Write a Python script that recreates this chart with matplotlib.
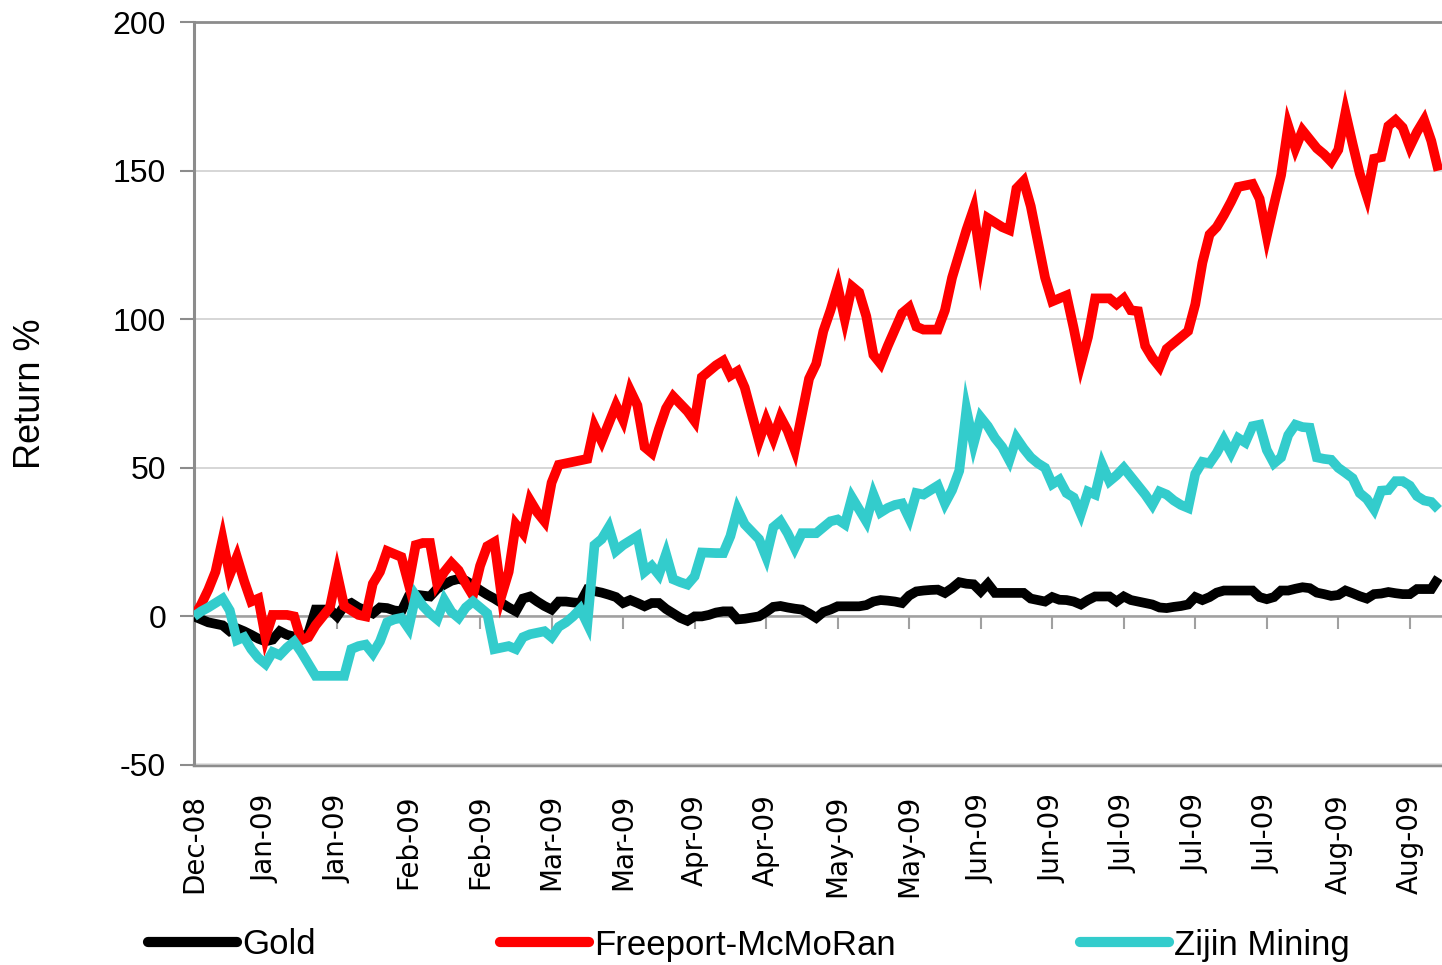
import matplotlib
matplotlib.use("Agg")
import matplotlib.pyplot as plt
from matplotlib import font_manager
from matplotlib.lines import Line2D

plt.rcParams["axes.unicode_minus"] = False

# ---------------- data (trading-day index, return %) ----------------
tick_labels = ["Dec-08", "Jan-09", "Jan-09", "Feb-09", "Feb-09", "Mar-09", "Mar-09",
               "Apr-09", "Apr-09", "May-09", "May-09", "Jun-09", "Jun-09", "Jul-09",
               "Jul-09", "Jul-09", "Aug-09", "Aug-09"]

gold = [0, -1, -2, -2.5, -3, -5, -4, -5, -6.2, -7.5,
        -8.4, -7.8, -5, -6.2, -6.8, -7.3, -5.5, 2.3, 2.3, 2.3,
        0, 3.5, 4.5, 3, 2, 1, 3, 2.8, 2, 1.7,
        6.7, 7.3, 7, 6.7, 9.3, 10.7, 12, 12.6, 12, 10.5,
        8.8, 7.3, 6, 4.5, 3, 1.7, 6, 6.7, 5, 3.5,
        2.3, 5, 5, 4.7, 4.5, 9, 8.5, 8, 7.3, 6.5,
        4.5, 5.5, 4.5, 3.4, 4.5, 4.5, 2.5, 1, -0.5, -1.5,
        0, 0, 0.5, 1.3, 1.7, 1.7, -1, -0.8, -0.4, 0,
        1.5, 3.2, 3.5, 3, 2.6, 2.3, 1, -0.5, 1.5, 2.3,
        3.4, 3.4, 3.4, 3.4, 3.8, 5, 5.5, 5.3, 5, 4.5,
        7, 8.4, 8.7, 8.9, 9, 7.9, 9.5, 11.5, 11, 10.8,
        8.4, 11, 7.9, 7.9, 7.9, 7.9, 7.9, 6, 5.5, 5,
        6.5, 5.6, 5.5, 5, 4, 5.5, 6.7, 6.7, 6.7, 5,
        6.7, 5.5, 5, 4.5, 4, 3, 2.8, 3.2, 3.5, 4,
        6.5, 5.5, 6.5, 8, 8.7, 8.7, 8.7, 8.7, 8.7, 6.5,
        5.8, 6.5, 8.7, 8.7, 9.3, 9.8, 9.5, 8, 7.5, 6.9,
        7.2, 8.7, 7.8, 6.8, 6, 7.5, 7.7, 8.2, 7.8, 7.5,
        7.5, 9.2, 9.2, 9.2, 13]

freeport = [0, 4, 9, 15, 26, 14, 20, 12, 5, 6,
            -7, 0.5, 0.5, 0.5, 0, -8, -7, -3, 0, 3,
            14.5, 3.5, 2, 0.5, 0, 11, 15, 22, 21, 20,
            11, 24, 24.7, 24.7, 11, 15, 18, 15.5, 11, 7,
            17, 23.6, 25, 7, 15, 31, 28, 39, 35, 32,
            45, 51, 51.5, 52, 52.5, 53, 64, 59, 65, 71,
            66, 76, 71, 57, 55, 63, 70, 74, 71.5, 69,
            65.7, 80.5, 82.5, 84.5, 86, 81, 82.5, 77, 68, 59,
            66, 60, 67, 62.5, 56, 68, 80, 85, 96, 103,
            111, 100, 111, 109, 101, 88, 85, 91, 96.5, 102,
            104, 97.5, 96.5, 96.5, 96.5, 103, 114, 122, 130, 137,
            120, 134, 132.5, 131, 130, 144, 146.5, 138, 126, 114,
            106, 107, 108, 97, 85, 94, 107, 107, 107, 105,
            107, 103, 102.7, 91, 87, 84, 90, 92, 94, 96,
            105, 119, 128.5, 131, 135, 139.5, 144.5, 145, 145.5, 140.5,
            128, 138.5, 148.5, 165, 157.5, 163.5, 160.5, 157.5, 155.5, 153,
            157, 169.5, 159, 149, 141.5, 154, 154.5, 165, 167, 164.5,
            158, 163, 167, 160, 150]

zijin = [0, 1.7, 3, 4.5, 6, 2, -8, -7, -11, -14,
         -16, -12, -13, -10.5, -8.5, -12, -16, -20, -20, -20,
         -20, -20, -11, -10, -9.5, -12.5, -8.4, -2, -1, -0.5,
         -4, 7, 3.5, 1, -1, 5.5, 1.5, -0.5, 3, 5,
         3, 1, -11, -10.5, -10, -11, -7, -6, -5.5, -5,
         -7, -3.5, -2, 0, 2.5, -2.5, 24, 26, 30, 22,
         24, 25.5, 27, 15, 17, 14, 21, 12.5, 11.5, 10.7,
         13.5, 21.5, 21.4, 21.3, 21.3, 27, 36, 31, 28.5, 26,
         20, 30, 32, 28, 23, 28, 28, 28, 30, 32,
         32.6, 31, 40, 36, 32, 41, 35, 36.5, 37.5, 38,
         33, 41.5, 41, 42.5, 44, 38, 42.5, 49, 69.5, 58,
         67, 64, 60, 57, 52.5, 60, 56.5, 53.5, 51.5, 50,
         44.5, 46, 41.5, 40, 34.5, 42, 41, 51, 45.5, 47.5,
         50, 47, 44, 41, 37.5, 42, 41, 39, 37.5, 36.5,
         48, 52, 51.5, 55, 59.5, 55, 60, 58.5, 64, 64.5,
         56, 51.5, 53.5, 61, 64.5, 63.7, 63.5, 53.5, 53, 52.7,
         50, 48.3, 46.5, 41.5, 39.5, 36, 42.3, 42.5, 45.5, 45.5,
         44, 40.5, 39, 38.5, 36]

series_names = ["Gold", "Freeport-McMoRan", "Zijin Mining"]
series_colors = ["#000000", "#FF0000", "#33CCCC"]

# ---------------- fonts ----------------
available = {f.name for f in font_manager.fontManager.ttflist}
narrow = "Liberation Sans Narrow" if "Liberation Sans Narrow" in available else "Liberation Sans"

# ---------------- figure ----------------
W, H = 1442, 965
fig = plt.figure(figsize=(W / 100, H / 100), dpi=100)
ax = fig.add_axes([194 / W, 1 - 765 / H, (W - 194) / W, (765 - 22) / H])

days = list(range(len(gold)))
LW = 7.0
for vals, name, col in zip([gold, freeport, zijin], series_names, series_colors):
    ax.plot(days, vals, color=col, lw=LW, label=name,
            solid_joinstyle="miter", solid_capstyle="butt", zorder=3)

ax.set_xlim(0, 174.5)
ax.set_ylim(-50, 200)

# gridlines
ax.set_yticks([-50, 0, 50, 100, 150, 200])
ax.yaxis.grid(True, color="#d0d0d0", lw=1.2)
ax.set_axisbelow(True)

# spines
grey = "#8c8c8c"
ax.spines["right"].set_visible(False)
ax.spines["top"].set_color(grey)
ax.spines["top"].set_linewidth(2)
ax.spines["left"].set_color(grey)
ax.spines["left"].set_linewidth(2.2)
ax.spines["bottom"].set_position(("data", 0))
ax.spines["bottom"].set_color("#a0a0a0")
ax.spines["bottom"].set_linewidth(1.8)

tick_pos = list(range(0, 10 * len(tick_labels), 10))
ax.set_xticks(tick_pos)
ax.tick_params(axis="x", direction="out", length=9, width=1.5, color="#a0a0a0",
               labelbottom=False)
ax.tick_params(axis="y", direction="out", length=10, width=1.5, color=grey, pad=10,
               labelsize=23)
for t in ax.get_yticklabels():
    t.set_fontfamily(narrow)

# bottom frame with labels
sec = ax.secondary_xaxis(0.0)
sec.set_xticks(tick_pos)
sec.set_xticklabels(tick_labels, rotation=90, fontsize=20, family="DejaVu Sans")
sec.tick_params(length=0, pad=21)
sec.spines["bottom"].set_color(grey)
sec.spines["bottom"].set_linewidth(2.5)

ax.set_ylabel("Return %", fontsize=26, family=narrow)
ax.yaxis.set_label_coords((48 - 194) / (W - 194), 0.5)

# legend: one entry per series, placed where the reference shows them
leg_x = [148, 500, 1080]
leg_y = 1 - 945 / H
for name, col, xpx in zip(series_names, series_colors, leg_x):
    h = Line2D([], [], color=col, lw=LW * 1.05, solid_capstyle="round")
    fig.legend([h], [name], loc="center left", bbox_to_anchor=(xpx / W, leg_y),
               frameon=False, prop={"family": narrow, "size": 25},
               handlelength=2.55, handletextpad=0.15, borderpad=0,
               borderaxespad=0)

fig.savefig("out.png", dpi=100)
